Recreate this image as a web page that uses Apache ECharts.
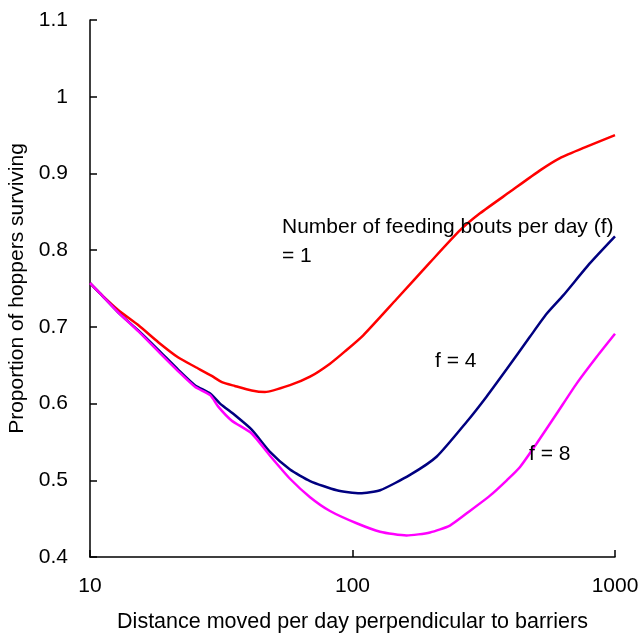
<!DOCTYPE html>
<html>
<head>
<meta charset="utf-8">
<script src="https://cdn.jsdelivr.net/npm/echarts@6/dist/echarts.min.js"></script>
<style>
html,body{margin:0;padding:0;background:#fff;}
#chart{width:640px;height:633px;}
</style>
</head>
<body>
<div id="chart"></div>
<script>
// Distances (x) and survival proportions (y) for each feeding-bout curve
const distF1 = [10, 10.9, 12.8, 15.3, 18.2, 21.7, 25.1, 29.1, 31.8, 35.6, 41.3, 46.4, 57.8, 68.9, 82.1, 93.6, 109.9, 147, 197.4, 257, 306, 398, 518, 617, 780, 1000];
const survF1 = [0.757, 0.744, 0.722, 0.702, 0.680, 0.660, 0.648, 0.636, 0.628, 0.623, 0.617, 0.615, 0.624, 0.635, 0.652, 0.668, 0.689, 0.736, 0.784, 0.826, 0.848, 0.876, 0.904, 0.920, 0.935, 0.950];

const distF4 = [10, 10.9, 12.8, 15.3, 18.2, 21.7, 25.1, 28.7, 31.3, 35.6, 41.3, 48.5, 57.8, 68.9, 87.1, 106.8, 127.4, 165.6, 209.5, 272, 324, 387, 474, 549, 635, 803, 1000];
const survF4 = [0.757, 0.744, 0.719, 0.695, 0.670, 0.644, 0.624, 0.613, 0.600, 0.585, 0.566, 0.537, 0.514, 0.499, 0.487, 0.483, 0.487, 0.507, 0.531, 0.576, 0.609, 0.645, 0.687, 0.717, 0.741, 0.783, 0.818];

const distF8 = [10, 10.9, 12.8, 15.3, 18.2, 21.7, 25.1, 28.7, 30.8, 34.6, 41.3, 48.5, 57.8, 68.9, 82.1, 103.7, 127.4, 160.6, 197.4, 235, 280, 334, 387, 434, 503, 600, 714, 852, 1000];
const survF8 = [0.757, 0.744, 0.719, 0.694, 0.668, 0.642, 0.622, 0.611, 0.596, 0.578, 0.561, 0.532, 0.502, 0.478, 0.460, 0.444, 0.433, 0.428, 0.432, 0.441, 0.460, 0.480, 0.500, 0.517, 0.548, 0.587, 0.626, 0.661, 0.691];

const xTicks = [10, 100, 1000];
const yMin = 0.4, yMax = 1.1, yStep = 0.1;

const pairs = (xs, ys) => xs.map((x, i) => [x, ys[i]]);
const FONT = 'Liberation Sans, Arial, sans-serif';
const FS = 21;

const chart = echarts.init(document.getElementById('chart'), null, {renderer: 'canvas'});

const lineSeries = (name, xs, ys, color) => ({
  name, type: 'line', data: pairs(xs, ys), showSymbol: false, smooth: 0.2,
  lineStyle: {color, width: 2.5}, itemStyle: {color}, z: 3
});

chart.setOption({
  animation: false,
  backgroundColor: '#ffffff',
  grid: {left: 90, right: 25, top: 20, bottom: 76, containLabel: false, outerBoundsMode: 'none'},
  xAxis: {
    type: 'log', logBase: 10, min: xTicks[0], max: xTicks[xTicks.length - 1],
    name: 'Distance moved per day perpendicular to barriers',
    nameLocation: 'middle', nameGap: 54,
    nameTextStyle: {fontFamily: FONT, fontSize: 21.5, color: '#000'},
    axisLine: {show: true, lineStyle: {color: '#000', width: 1.5}},
    axisTick: {show: true, inside: true, length: 7, lineStyle: {color: '#000', width: 1.5}},
    minorTick: {show: false},
    axisLabel: {fontFamily: FONT, fontSize: FS, color: '#000', margin: 19,
      formatter: v => String(Math.round(v))},
    splitLine: {show: false}
  },
  yAxis: {
    type: 'value', min: yMin, max: yMax, interval: yStep,
    name: 'Proportion of hoppers surviving',
    nameLocation: 'middle', nameGap: 56,
    nameTextStyle: {fontFamily: FONT, fontSize: FS, color: '#000'},
    axisLine: {show: true, lineStyle: {color: '#000', width: 1.5}},
    axisTick: {show: true, inside: true, length: 7, lineStyle: {color: '#000', width: 1.5}},
    axisLabel: {fontFamily: FONT, fontSize: FS, color: '#000', margin: 22,
      formatter: v => String(parseFloat(v.toFixed(1)))},
    splitLine: {show: false}
  },
  series: [
    lineSeries('f = 1', distF1, survF1, '#ff0000'),
    lineSeries('f = 4', distF4, survF4, '#000080'),
    lineSeries('f = 8', distF8, survF8, '#ff00ff')
  ],
  graphic: [
    {type: 'text', left: 282, top: 217, z: 10, style: {text: 'Number of feeding bouts per day (f)', font: FS + 'px ' + FONT, fill: '#000'}},
    {type: 'text', left: 282, top: 246, z: 10, style: {text: '= 1', font: FS + 'px ' + FONT, fill: '#000'}},
    {type: 'text', left: 435, top: 351, z: 10, style: {text: 'f = 4', font: FS + 'px ' + FONT, fill: '#000'}},
    {type: 'text', left: 529, top: 444, z: 10, style: {text: 'f = 8', font: FS + 'px ' + FONT, fill: '#000'}}
  ]
});
</script>
</body>
</html>
